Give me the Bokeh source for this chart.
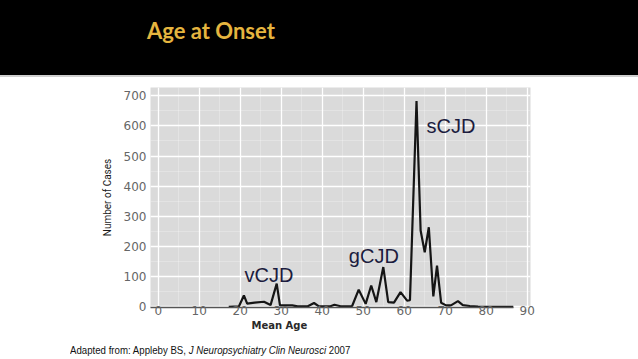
from bokeh.plotting import figure
from bokeh.models import Range1d, FixedTicker, Label, Div, Title
from bokeh.layouts import column
from bokeh.embed import file_html
from bokeh.resources import INLINE

# ---- data ----
ages = [17.2, 19.7, 20.9, 21.7, 23.5, 25.8, 27.4, 28.9, 29.7, 32.7, 34.0, 36.5,
        38.0, 39.2, 42.0, 43.0, 44.5, 47.3, 48.9, 50.6, 51.95, 53.2, 54.9, 56.1,
        57.5, 59.1, 60.7, 61.4, 63.0, 64.0, 65.0, 66.0, 67.1, 68.0, 69.0, 70.2,
        71.5, 73.1, 74.3, 76.0, 78.0, 86.6]
cases = [0, 2, 38, 11, 14, 17, 6, 77, 5, 5, 2, 2,
         13, 2, 2, 7, 2, 3, 57, 10, 71, 16, 132, 16,
         14, 49, 21, 22, 682, 253, 181, 264, 35, 137, 14, 5,
         6, 19, 6, 3, 1, 0]
x_ticks = [0, 10, 20, 30, 40, 50, 60, 70, 80, 90]
y_ticks = [0, 100, 200, 300, 400, 500, 600, 700]
x_minor = [5, 15, 25, 35, 45, 55, 65, 75, 85]
y_minor = [50, 150, 250, 350, 450, 550, 650]
peak_labels = ["vCJD", "gCJD", "sCJD"]
title_text = "Age at Onset"
x_title = "Mean Age"
y_title = "Number of Cases"

# ---- header band ----
header = Div(
    text=('<div style="padding:20px 0 0 147px;line-height:22px;'
          'font-family:Lato;font-weight:bold;font-size:22px;color:#E5B53F;'
          'white-space:nowrap;">' + title_text + '</div>'),
    width=638, height=77, margin=0,
    styles={"background": "linear-gradient(to bottom, #000 0px, #000 75px, #cfcfcf 75px, #cfcfcf 77px)"},
)

# ---- chart ----
p = figure(width=638, height=264, output_backend="svg", toolbar_location=None,
           x_range=Range1d(-1.88, 90.8), y_range=Range1d(-2, 727),
           min_border_left=150, min_border_right=108,
           min_border_top=10, min_border_bottom=34)
p.background_fill_color = "#dadada"
p.border_fill_color = "white"
p.outline_line_color = None

p.xaxis.ticker = FixedTicker(ticks=x_ticks, minor_ticks=x_minor)
p.yaxis.ticker = FixedTicker(ticks=y_ticks, minor_ticks=y_minor)
for ax in (p.xaxis, p.yaxis):
    ax.major_tick_out = 0
    ax.major_tick_in = 0
    ax.minor_tick_out = 0
    ax.minor_tick_in = 0
    ax.major_label_text_font = "DejaVu Sans"
    ax.major_label_text_font_size = "12px"
    ax.major_label_text_color = "#666666"
p.xaxis.major_label_standoff = -2
p.yaxis.major_label_standoff = 4
p.yaxis.axis_line_color = None
p.xaxis.axis_line_color = "#555555"
p.xaxis.axis_line_width = 1.5
p.xaxis.bounds = (-1.88, 86.6)

p.yaxis.axis_label = y_title
p.yaxis.axis_label_text_font = "Roboto"
p.yaxis.axis_label_text_font_size = "10px"
p.yaxis.axis_label_text_font_style = "normal"
p.yaxis.axis_label_text_color = "#1a1a1a"
p.yaxis.axis_label_standoff = 8

p.add_layout(Title(text=x_title, align="left", offset=101, standoff=0,
                   text_font="DejaVu Sans", text_font_style="bold",
                   text_font_size="10px", text_color="#2a2a2a"), "below")

p.xgrid.grid_line_color = "white"
p.ygrid.grid_line_color = "white"
p.xgrid.grid_line_width = 1.3
p.ygrid.grid_line_width = 1.3
p.xgrid.minor_grid_line_color = "white"
p.ygrid.minor_grid_line_color = "white"
p.xgrid.minor_grid_line_alpha = 0.25
p.ygrid.minor_grid_line_alpha = 0.25

p.line(ages, cases, line_color="#151515", line_width=2.2)

ann_style = dict(text_font="Liberation Sans", text_font_size="20px",
                 text_color="#1c1c3e", text_align="left", text_baseline="alphabetic")
p.add_layout(Label(x=21.05, y=106.4, text=peak_labels[0], **ann_style))
p.add_layout(Label(x=46.49, y=170.3, text=peak_labels[1], **ann_style))
p.add_layout(Label(x=65.44, y=597.8, text=peak_labels[2], **ann_style))

# ---- footer ----
footer = Div(
    text=('<div style="padding:2px 0 0 70px;line-height:14px;white-space:nowrap;">'
          '<span style="display:inline-block;transform:scaleX(0.84);transform-origin:0 0;'
          'font-family:\'Liberation Sans\';font-size:11.5px;color:#111;">'
          'Adapted from: Appleby BS, <i>J Neuropsychiatry Clin Neurosci</i> 2007</span></div>'),
    width=638, height=18, margin=0,
)

layout = column(header, p, footer, spacing=0)

open("out.html", "w").write(file_html(layout, INLINE))
